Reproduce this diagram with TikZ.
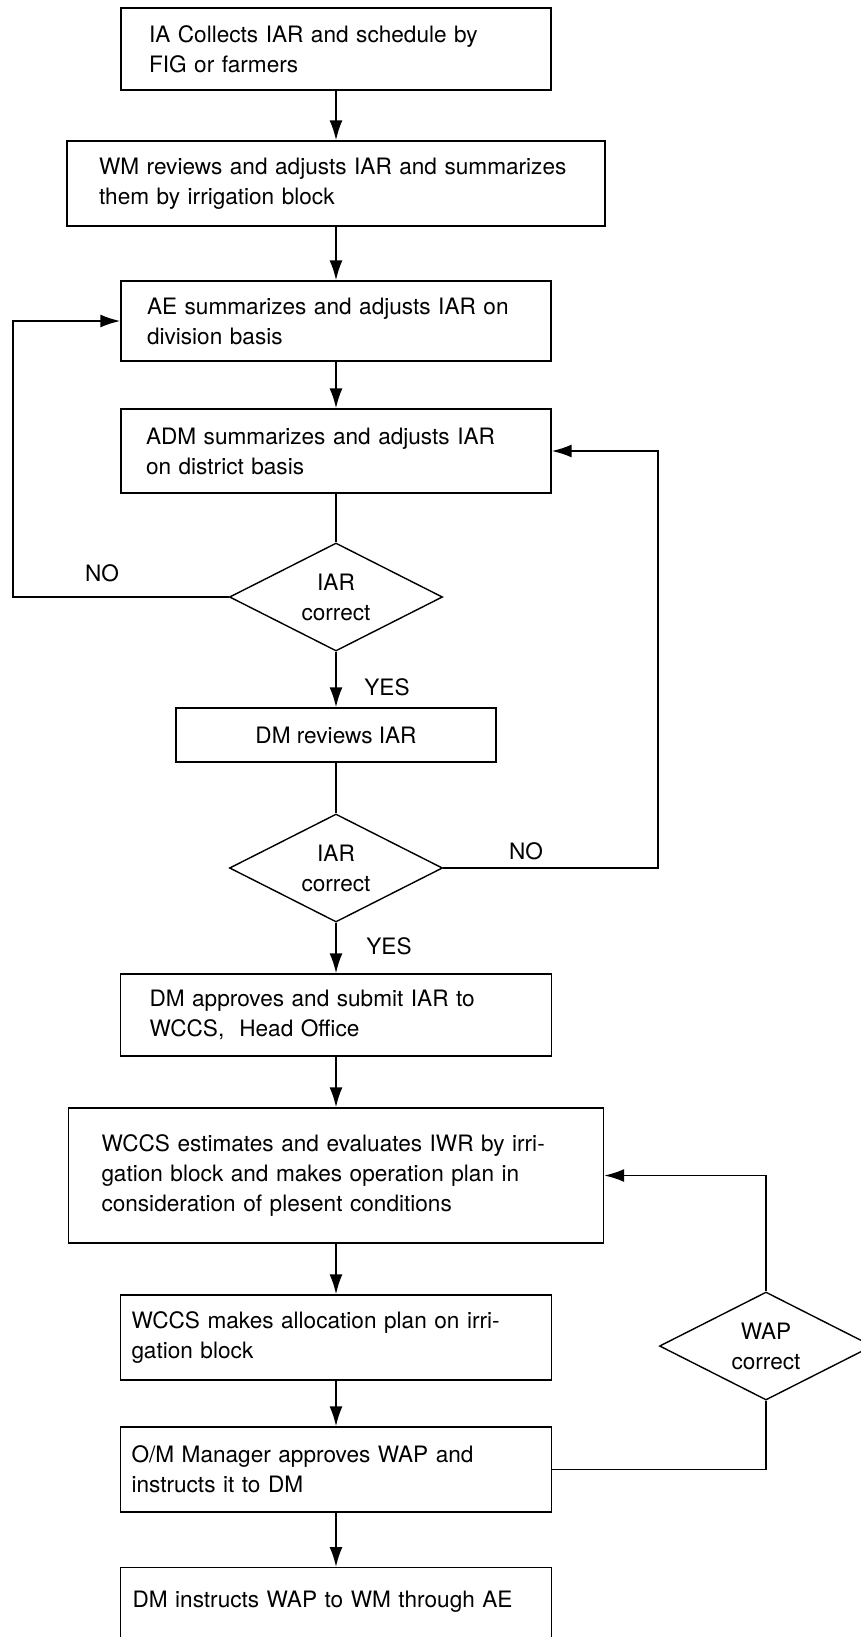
\documentclass[tikz,border=0pt]{standalone}
\usepackage{fontspec}
\setmainfont{TeX Gyre Heros}
\usetikzlibrary{shapes.geometric,arrows.meta}

\begin{document}
\begin{tikzpicture}[x=0.5pt, y=-0.5pt, every node/.style={font=\fontsize{11.3}{15}\selectfont}]
    \tikzset{bx/.style={draw, rectangle, inner sep=0pt, align=left, line width=0.7pt},
      dm/.style={draw, diamond, inner sep=0pt, aspect=2, minimum width=106.5pt, minimum height=54pt, align=center, line width=0.7pt},
      ln/.style={line width=0.9pt},
      arr/.style={ln, -{Latex[length=10pt,width=6.5pt]}}}
    \useasboundingbox (0,0) rectangle (861,1637);
    \node[bx, minimum width=215pt, minimum height=41pt, text width=187pt] (b1) at (336,49) {IA Collects IAR and schedule by\\FIG or farmers};
    \node[bx, minimum width=269pt, minimum height=42.5pt, text width=237pt] (b2) at (336,183.5) {WM reviews and adjusts IAR and summarizes\\them by irrigation block};
    \node[bx, minimum width=215pt, minimum height=40pt, text width=189pt] (b3) at (336,321) {AE summarizes and adjusts IAR on\\division basis};
    \node[bx, minimum width=215pt, minimum height=42pt, text width=190pt] (b4) at (336,451) {ADM summarizes and adjusts IAR\\on district basis};
    \node[dm] (d1) at (336,597) {IAR\\correct};
    \node[bx, minimum width=160pt, minimum height=27pt, align=center] (b5r) at (336,735) {DM reviews IAR};
    \node[dm] (d2) at (336,868) {IAR\\correct};
    \node[bx, minimum width=215.5pt, minimum height=41pt, text width=186.5pt] (b5) at (336,1015) {DM approves and submit IAR to\\WCCS,\ \ Head Office};
    \node[bx, minimum width=267.5pt, minimum height=67.5pt, text width=234.5pt] (b6) at (336,1175.5) {WCCS estimates and evaluates IWR by irri-\\gation block and makes operation plan in\\consideration of plesent conditions};
    \node[bx, minimum width=215.5pt, minimum height=42.5pt, text width=204.5pt] (b7) at (336,1337.5) {WCCS makes allocation plan on irri-\\gation block};
    \node[bx, minimum width=215.5pt, minimum height=42.5pt, text width=204.5pt] (b8) at (336,1469.5) {O/M Manager approves WAP and\\instructs it to DM};
    \node[bx, anchor=north, minimum width=215.5pt, text width=203.5pt, text height=20pt, text depth=60pt] (b9) at (336,1567) {DM instructs WAP to WM through AE};
    \node[dm] (d3) at (766,1346) {WAP\\correct};
    \node (no1) at (102,573) {NO};
    \node (yes1) at (387,687) {YES};
    \node (no2) at (526,851) {NO};
    \node (yes2) at (389,946) {YES};
    \coordinate (lft) at (13,597);
    \coordinate (rgt) at (658,868);
    \draw[arr] (b1) -- (b2);
    \draw[arr] (b2) -- (b3);
    \draw[arr] (b3) -- (b4);
    \draw[ln] (b4) -- (d1);
    \draw[arr] (d1) -- (b5r);
    \draw[ln] (b5r) -- (d2);
    \draw[arr] (d2) -- (b5);
    \draw[arr] (b5) -- (b6);
    \draw[arr] (b6) -- (b7);
    \draw[arr] (b7) -- (b8);
    \draw[arr] (b8) -- (b9);
    \draw[arr] (d1.west) -- (lft) |- (b3.west);
    \draw[arr] (d2.east) -- (rgt) |- (b4.east);
    \draw[ln] (b8.east) -| (d3.south);
    \draw[arr] (d3.north) |- (b6.east);
\end{tikzpicture}
\end{document}
